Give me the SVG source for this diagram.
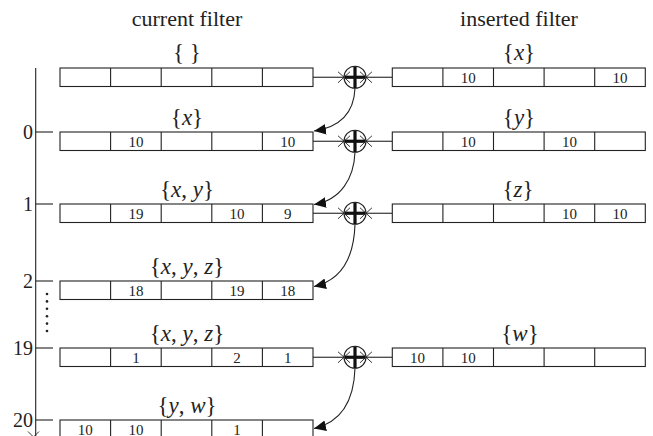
<svg xmlns="http://www.w3.org/2000/svg" width="653" height="436" viewBox="0 0 653 436">
<defs>
<style>
.bx{fill:#fff;stroke:#222;stroke-width:1.1}
.ln{stroke:#222;stroke-width:1.1;fill:none}
.xm{stroke:#222;stroke-width:0.9;fill:none}
.pl{stroke:#111;stroke-width:3.2;fill:none}
.t{font-family:"Liberation Serif","Times New Roman",serif;fill:#222}
.ttl{font-size:22px;text-anchor:middle}
.set{font-size:23px;text-anchor:middle}
.set tspan.v{font-style:italic}
.num{font-size:15px;text-anchor:middle}
.ax{font-size:20px;text-anchor:end}
</style>
<marker id="ah" markerUnits="userSpaceOnUse" markerWidth="12" markerHeight="12" viewBox="0 0 10 10" refX="10" refY="5" orient="auto">
<path d="M0,0.5 L10,5 L0,9.5 z" fill="#111"/>
</marker>
</defs>
<rect width="653" height="436" fill="#fff"/>

<g id="titles" class="t">
<text class="t ttl" x="187" y="26">current filter</text>
<text class="t ttl" x="519" y="26">inserted filter</text>
</g>

<g id="axis">
<line class="ln" x1="35.7" y1="68" x2="35.7" y2="436"/>
<line class="ln" x1="35.7" y1="132" x2="53" y2="132"/>
<line class="ln" x1="35.7" y1="204" x2="53" y2="204"/>
<line class="ln" x1="35.7" y1="281" x2="53" y2="281"/>
<line class="ln" x1="35.7" y1="348" x2="53" y2="348"/>
<line class="ln" x1="35.7" y1="420" x2="53" y2="420"/>
<line class="xm" x1="28" y1="431.5" x2="40" y2="443.5"/>
<line class="xm" x1="39" y1="431.5" x2="27" y2="443.5"/>
<text class="t ax" x="33" y="139">0</text>
<text class="t ax" x="33" y="211">1</text>
<text class="t ax" x="33" y="288">2</text>
<text class="t ax" x="33" y="355">19</text>
<text class="t ax" x="33" y="427">20</text>
<g fill="#222">
<circle cx="47" cy="294" r="1.3"/>
<circle cx="47" cy="301.4" r="1.3"/>
<circle cx="47" cy="308.8" r="1.3"/>
<circle cx="47" cy="316.2" r="1.3"/>
<circle cx="47" cy="323.6" r="1.3"/>
<circle cx="47" cy="331" r="1.3"/>
</g>
</g>

<g id="connectors">
<line class="ln" x1="313" y1="77.25" x2="344" y2="77.25"/>
<line class="ln" x1="366" y1="77.25" x2="392.3" y2="77.25"/>
<line class="ln" x1="313" y1="141.25" x2="344" y2="141.25"/>
<line class="ln" x1="366" y1="141.25" x2="392.3" y2="141.25"/>
<line class="ln" x1="313" y1="213.25" x2="344" y2="213.25"/>
<line class="ln" x1="366" y1="213.25" x2="392.3" y2="213.25"/>
<line class="ln" x1="313" y1="357.25" x2="344" y2="357.25"/>
<line class="ln" x1="366" y1="357.25" x2="392.3" y2="357.25"/>
<path class="ln" d="M355,88.25 C354,112 341,127 314,131" marker-end="url(#ah)"/>
<path class="ln" d="M355,152.25 C354,178 341,200 314,204.5" marker-end="url(#ah)"/>
<path class="ln" d="M355,224.25 C354,256 342,280 314,286.5" marker-end="url(#ah)"/>
<path class="ln" d="M355,368.25 C354,400 342,422 314,428.5" marker-end="url(#ah)"/>
</g>

<g id="sum0">
<line class="xm" x1="338" y1="71.75" x2="350" y2="82.75"/><line class="xm" x1="338" y1="82.75" x2="350" y2="71.75"/>
<line class="xm" x1="360" y1="71.75" x2="372" y2="82.75"/><line class="xm" x1="360" y1="82.75" x2="372" y2="71.75"/>
<circle class="ln" cx="355" cy="77.25" r="11"/>
<line class="pl" x1="355" y1="66.5" x2="355" y2="88"/><line class="pl" x1="345" y1="77.25" x2="365" y2="77.25"/>
</g>
<g id="sum1">
<line class="xm" x1="338" y1="135.75" x2="350" y2="146.75"/><line class="xm" x1="338" y1="146.75" x2="350" y2="135.75"/>
<line class="xm" x1="360" y1="135.75" x2="372" y2="146.75"/><line class="xm" x1="360" y1="146.75" x2="372" y2="135.75"/>
<circle class="ln" cx="355" cy="141.25" r="11"/>
<line class="pl" x1="355" y1="130.5" x2="355" y2="152"/><line class="pl" x1="345" y1="141.25" x2="365" y2="141.25"/>
</g>
<g id="sum2">
<line class="xm" x1="338" y1="207.75" x2="350" y2="218.75"/><line class="xm" x1="338" y1="218.75" x2="350" y2="207.75"/>
<line class="xm" x1="360" y1="207.75" x2="372" y2="218.75"/><line class="xm" x1="360" y1="218.75" x2="372" y2="207.75"/>
<circle class="ln" cx="355" cy="213.25" r="11"/>
<line class="pl" x1="355" y1="202.5" x2="355" y2="224"/><line class="pl" x1="345" y1="213.25" x2="365" y2="213.25"/>
</g>
<g id="sum3">
<line class="xm" x1="338" y1="351.75" x2="350" y2="362.75"/><line class="xm" x1="338" y1="362.75" x2="350" y2="351.75"/>
<line class="xm" x1="360" y1="351.75" x2="372" y2="362.75"/><line class="xm" x1="360" y1="362.75" x2="372" y2="351.75"/>
<circle class="ln" cx="355" cy="357.25" r="11"/>
<line class="pl" x1="355" y1="346.5" x2="355" y2="368"/><line class="pl" x1="345" y1="357.25" x2="365" y2="357.25"/>
</g>

<g id="cur0">
<rect class="bx" x="60" y="68" width="253" height="18.5"/>
<path class="ln" d="M110.6,68v18.5M161.2,68v18.5M211.8,68v18.5M262.4,68v18.5"/>
<text class="t set" x="187" y="60">{ }</text>
</g>
<g id="cur1">
<rect class="bx" x="60" y="132" width="253" height="18.5"/>
<path class="ln" d="M110.6,132v18.5M161.2,132v18.5M211.8,132v18.5M262.4,132v18.5"/>
<text class="t set" x="187" y="124.5">{<tspan class="v">x</tspan>}</text>
<text class="t num" x="135.9" y="147">10</text>
<text class="t num" x="287.7" y="147">10</text>
</g>
<g id="cur2">
<rect class="bx" x="60" y="204" width="253" height="18.5"/>
<path class="ln" d="M110.6,204v18.5M161.2,204v18.5M211.8,204v18.5M262.4,204v18.5"/>
<text class="t set" x="187" y="196.5">{<tspan class="v">x</tspan>, <tspan class="v">y</tspan>}</text>
<text class="t num" x="135.9" y="219">19</text>
<text class="t num" x="237.1" y="219">10</text>
<text class="t num" x="287.7" y="219">9</text>
</g>
<g id="cur3">
<rect class="bx" x="60" y="281" width="253" height="18.5"/>
<path class="ln" d="M110.6,281v18.5M161.2,281v18.5M211.8,281v18.5M262.4,281v18.5"/>
<text class="t set" x="187" y="273.5">{<tspan class="v">x</tspan>, <tspan class="v">y</tspan>, <tspan class="v">z</tspan>}</text>
<text class="t num" x="135.9" y="296">18</text>
<text class="t num" x="237.1" y="296">19</text>
<text class="t num" x="287.7" y="296">18</text>
</g>
<g id="cur19">
<rect class="bx" x="60" y="348" width="253" height="18.5"/>
<path class="ln" d="M110.6,348v18.5M161.2,348v18.5M211.8,348v18.5M262.4,348v18.5"/>
<text class="t set" x="187" y="340.5">{<tspan class="v">x</tspan>, <tspan class="v">y</tspan>, <tspan class="v">z</tspan>}</text>
<text class="t num" x="135.9" y="363">1</text>
<text class="t num" x="237.1" y="363">2</text>
<text class="t num" x="287.7" y="363">1</text>
</g>
<g id="cur20">
<rect class="bx" x="60" y="420" width="253" height="18.5"/>
<path class="ln" d="M110.6,420v18.5M161.2,420v18.5M211.8,420v18.5M262.4,420v18.5"/>
<text class="t set" x="187" y="412.5">{<tspan class="v">y</tspan>, <tspan class="v">w</tspan>}</text>
<text class="t num" x="85.3" y="435">10</text>
<text class="t num" x="135.9" y="435">10</text>
<text class="t num" x="237.1" y="435">1</text>
</g>

<g id="ins0">
<rect class="bx" x="392.3" y="68" width="253" height="18.5"/>
<path class="ln" d="M442.9,68v18.5M493.5,68v18.5M544.1,68v18.5M594.7,68v18.5"/>
<text class="t set" x="519" y="60">{<tspan class="v">x</tspan>}</text>
<text class="t num" x="468.2" y="83">10</text>
<text class="t num" x="620" y="83">10</text>
</g>
<g id="ins1">
<rect class="bx" x="392.3" y="132" width="253" height="18.5"/>
<path class="ln" d="M442.9,132v18.5M493.5,132v18.5M544.1,132v18.5M594.7,132v18.5"/>
<text class="t set" x="519" y="124.5">{<tspan class="v">y</tspan>}</text>
<text class="t num" x="468.2" y="147">10</text>
<text class="t num" x="569.4" y="147">10</text>
</g>
<g id="ins2">
<rect class="bx" x="392.3" y="204" width="253" height="18.5"/>
<path class="ln" d="M442.9,204v18.5M493.5,204v18.5M544.1,204v18.5M594.7,204v18.5"/>
<text class="t set" x="518" y="196.5">{<tspan class="v">z</tspan>}</text>
<text class="t num" x="569.4" y="219">10</text>
<text class="t num" x="620" y="219">10</text>
</g>
<g id="ins19">
<rect class="bx" x="392.3" y="348" width="253" height="18.5"/>
<path class="ln" d="M442.9,348v18.5M493.5,348v18.5M544.1,348v18.5M594.7,348v18.5"/>
<text class="t set" x="520" y="340.5">{<tspan class="v">w</tspan>}</text>
<text class="t num" x="417.6" y="363">10</text>
<text class="t num" x="468.2" y="363">10</text>
</g>
</svg>
